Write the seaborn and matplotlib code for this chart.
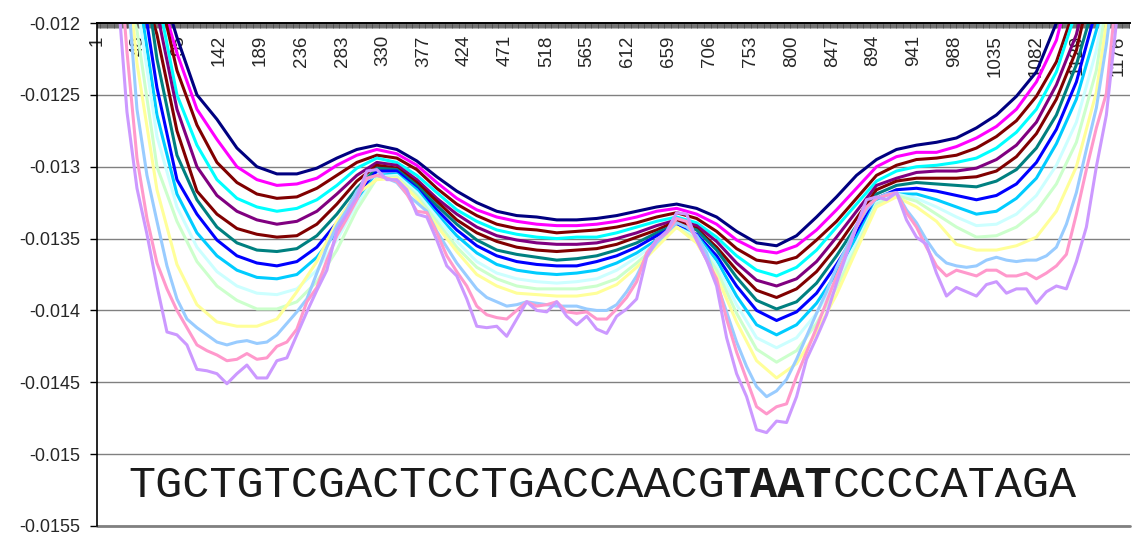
import numpy as np
import pandas as pd
import matplotlib
matplotlib.use("Agg")
import matplotlib.pyplot as plt
import seaborn as sns

# ---------------- data ----------------
# category positions (x axis is a category axis 1..1189)
X_COARSE = np.arange(1, 1198, 23)      # 53 sample positions
X_FINE = np.arange(1, 1198, 11.5)      # 105 sample positions

NAVY = [-0.0100, -0.0105, -0.0110, -0.01164, -0.01210, -0.01250, -0.01267, -0.01287, -0.01300, -0.01305,
        -0.01305, -0.01301, -0.01294, -0.01288, -0.01285, -0.01288, -0.01296, -0.01307, -0.01317, -0.01325,
        -0.01331, -0.01334, -0.01335, -0.01337, -0.01337, -0.01336, -0.01334, -0.01331, -0.01328, -0.01326,
        -0.01329, -0.01335, -0.01345, -0.01353, -0.01355, -0.01348, -0.01335, -0.01321, -0.01306, -0.01295,
        -0.01288, -0.01285, -0.01283, -0.01280, -0.01273, -0.01264, -0.01251, -0.01234, -0.01200, -0.01139,
        -0.0108, -0.0103, -0.0100]
MAGENTA = [-0.0102, -0.0107, -0.0112, -0.01173, -0.01221, -0.01260, -0.01281, -0.01300, -0.01309, -0.01313,
           -0.01312, -0.01308, -0.01299, -0.01292, -0.01288, -0.01291, -0.01299, -0.01311, -0.01322, -0.01330,
           -0.01335, -0.01338, -0.01340, -0.01341, -0.01341, -0.01340, -0.01338, -0.01335, -0.01331, -0.01329,
           -0.01333, -0.01340, -0.01351, -0.01358, -0.01360, -0.01355, -0.01344, -0.01330, -0.01315, -0.01300,
           -0.01293, -0.01290, -0.01290, -0.01286, -0.01280, -0.01272, -0.01260, -0.01241, -0.01212, -0.01158,
           -0.0110, -0.0105, -0.0102]
MAROON_A = [-0.0103, -0.0108, -0.0113, -0.01172, -0.01233, -0.01271, -0.01297, -0.01311, -0.01319, -0.01322,
            -0.01321, -0.01315, -0.01306, -0.01297, -0.01292, -0.01294, -0.01302, -0.01315, -0.01326, -0.01334,
            -0.01340, -0.01343, -0.01344, -0.01346, -0.01345, -0.01344, -0.01342, -0.01339, -0.01335, -0.01332,
            -0.01336, -0.01345, -0.01357, -0.01365, -0.01367, -0.01363, -0.01351, -0.01338, -0.01322, -0.01306,
            -0.01299, -0.01295, -0.01294, -0.01292, -0.01287, -0.01279, -0.01268, -0.01251, -0.01227, -0.01186,
            -0.0112, -0.0107, -0.0104]
CYAN = [-0.0104, -0.0109, -0.0114, -0.01179, -0.01250, -0.01285, -0.01309, -0.01322, -0.01328, -0.01331,
        -0.01329, -0.01323, -0.01313, -0.01301, -0.01294, -0.01297, -0.01306, -0.01318, -0.01330, -0.01338,
        -0.01344, -0.01347, -0.01349, -0.01350, -0.01349, -0.01349, -0.01346, -0.01342, -0.01338, -0.01335,
        -0.01339, -0.01349, -0.01362, -0.01372, -0.01376, -0.01370, -0.01358, -0.01342, -0.01326, -0.01310,
        -0.01303, -0.01300, -0.01299, -0.01297, -0.01294, -0.01287, -0.01276, -0.01260, -0.01234, -0.01191,
        -0.0114, -0.0108, -0.0105]
PURPLE = [-0.0105, -0.0110, -0.0115, -0.01192, -0.01260, -0.01300, -0.01320, -0.01331, -0.01337, -0.01340,
          -0.01338, -0.01331, -0.01319, -0.01306, -0.01297, -0.01299, -0.01309, -0.01322, -0.01333, -0.01342,
          -0.01348, -0.01351, -0.01353, -0.01354, -0.01354, -0.01353, -0.01350, -0.01346, -0.01341, -0.01337,
          -0.01341, -0.01352, -0.01367, -0.01379, -0.01383, -0.01378, -0.01366, -0.01349, -0.01331, -0.01313,
          -0.01308, -0.01304, -0.01303, -0.01303, -0.01301, -0.01295, -0.01285, -0.01269, -0.01243, -0.01208,
          -0.0115, -0.0110, -0.0106]
MAROON_B = [-0.0106, -0.0111, -0.0116, -0.01208, -0.01275, -0.01317, -0.01333, -0.01343, -0.01347, -0.01349,
            -0.01348, -0.01340, -0.01326, -0.01310, -0.01299, -0.01301, -0.01311, -0.01324, -0.01337, -0.01346,
            -0.01352, -0.01356, -0.01358, -0.01359, -0.01358, -0.01357, -0.01354, -0.01349, -0.01344, -0.01338,
            -0.01343, -0.01356, -0.01372, -0.01386, -0.01391, -0.01385, -0.01373, -0.01356, -0.01336, -0.01316,
            -0.01310, -0.01308, -0.01308, -0.01308, -0.01307, -0.01303, -0.01293, -0.01277, -0.01253, -0.01219,
            -0.01158, -0.0110, -0.0106]
TEAL = [-0.0105, -0.0110, -0.01127, -0.01225, -0.01292, -0.01323, -0.01342, -0.01353, -0.01358, -0.01359,
        -0.01357, -0.01348, -0.01333, -0.01315, -0.01301, -0.01302, -0.01313, -0.01327, -0.01340, -0.01351,
        -0.01358, -0.01361, -0.01363, -0.01365, -0.01364, -0.01362, -0.01358, -0.01353, -0.01346, -0.01340,
        -0.01344, -0.01358, -0.01377, -0.01393, -0.01399, -0.01394, -0.01381, -0.01362, -0.01341, -0.01319,
        -0.01313, -0.01311, -0.01312, -0.01313, -0.01314, -0.01310, -0.01302, -0.01287, -0.01264, -0.01229,
        -0.01181, -0.0111, -0.0107]
BLUE = [-0.0108, -0.0113, -0.01155, -0.01245, -0.01309, -0.01333, -0.01351, -0.01362, -0.01367, -0.01369,
        -0.01366, -0.01356, -0.01339, -0.01319, -0.01303, -0.01303, -0.01315, -0.01330, -0.01344, -0.01355,
        -0.01362, -0.01366, -0.01368, -0.01369, -0.01369, -0.01366, -0.01362, -0.01356, -0.01348, -0.01341,
        -0.01347, -0.01362, -0.01383, -0.01400, -0.01407, -0.01401, -0.01388, -0.01368, -0.01346, -0.01322,
        -0.01316, -0.01315, -0.01317, -0.01320, -0.01323, -0.01320, -0.01312, -0.01297, -0.01274, -0.01241,
        -0.01190, -0.0112, -0.0108]
SKYBLUE = [-0.0109, -0.0114, -0.01171, -0.01264, -0.01319, -0.01346, -0.01362, -0.01372, -0.01377, -0.01378,
           -0.01375, -0.01363, -0.01345, -0.01323, -0.01306, -0.01305, -0.01316, -0.01333, -0.01348, -0.01360,
           -0.01368, -0.01372, -0.01374, -0.01375, -0.01374, -0.01372, -0.01367, -0.01360, -0.01351, -0.01342,
           -0.01348, -0.01365, -0.01390, -0.01410, -0.01417, -0.01410, -0.01395, -0.01374, -0.01349, -0.01324,
           -0.01319, -0.01319, -0.01323, -0.01328, -0.01333, -0.01331, -0.01322, -0.01308, -0.01284, -0.01253,
           -0.01205, -0.0115, -0.0110]
LIGHTCYAN = [-0.0110, -0.0115, -0.01185, -0.01279, -0.01328, -0.01356, -0.01373, -0.01383, -0.01388, -0.01389,
             -0.01385, -0.01372, -0.01351, -0.01326, -0.01307, -0.01306, -0.01318, -0.01335, -0.01352, -0.01366,
             -0.01374, -0.01378, -0.01380, -0.01381, -0.01380, -0.01378, -0.01372, -0.01363, -0.01353, -0.01342,
             -0.01349, -0.01369, -0.01396, -0.01419, -0.01426, -0.01419, -0.01402, -0.01378, -0.01353, -0.01325,
             -0.01319, -0.01322, -0.01328, -0.01335, -0.01341, -0.01340, -0.01333, -0.01320, -0.01299, -0.01269,
             -0.01219, -0.01144, -0.0110]
LIGHTGREEN = [-0.0111, -0.0116, -0.01205, -0.01300, -0.01338, -0.01366, -0.01383, -0.01393, -0.01399, -0.01399,
              -0.01394, -0.01380, -0.01358, -0.01330, -0.01308, -0.01307, -0.01320, -0.01338, -0.01356, -0.01370,
              -0.01378, -0.01383, -0.01385, -0.01385, -0.01385, -0.01383, -0.01378, -0.01367, -0.01355, -0.01342,
              -0.01351, -0.01372, -0.01402, -0.01427, -0.01436, -0.01428, -0.01409, -0.01384, -0.01356, -0.01326,
              -0.01320, -0.01324, -0.01333, -0.01342, -0.01349, -0.01348, -0.01342, -0.01331, -0.01312, -0.01283,
              -0.01233, -0.01142, -0.0110]
YELLOW = [-0.0105, -0.01086, -0.01228, -0.01316, -0.01368, -0.01396, -0.01408, -0.01411, -0.01411, -0.01406,
          -0.01387, -0.01366, -0.01338, -0.01319, -0.01309, -0.01308, -0.01322, -0.01341, -0.01359, -0.01375,
          -0.01383, -0.01388, -0.01389, -0.01390, -0.01390, -0.01388, -0.01382, -0.01370, -0.01356, -0.01342,
          -0.01353, -0.01376, -0.01408, -0.01435, -0.01447, -0.01437, -0.01415, -0.01389, -0.01358, -0.01328,
          -0.01321, -0.01328, -0.01338, -0.01354, -0.01358, -0.01358, -0.01355, -0.01349, -0.01331, -0.01300,
          -0.01248, -0.01152, -0.0110]
LIGHTBLUE = [-0.0105, -0.0108, -0.0110, -0.01171, -0.01260, -0.01306, -0.01338, -0.01369, -0.01392, -0.01406,
             -0.01412, -0.01417, -0.01422, -0.01424, -0.01422, -0.01421, -0.01423, -0.01422, -0.01417, -0.01409,
             -0.01401, -0.01392, -0.01374, -0.01356, -0.01341, -0.01330, -0.01317, -0.01309, -0.01306, -0.01308,
             -0.01311, -0.01319, -0.01325, -0.01331, -0.01345, -0.01356, -0.01367, -0.01376, -0.01385, -0.01391,
             -0.01394, -0.01397, -0.01396, -0.01394, -0.01395, -0.01396, -0.01397, -0.01397, -0.01397, -0.01399,
             -0.01400, -0.01400, -0.01396, -0.01387, -0.01376, -0.01362, -0.01353, -0.01346, -0.01339, -0.01342,
             -0.01348, -0.01360, -0.01381, -0.01401, -0.01422, -0.01439, -0.01453, -0.01460, -0.01456, -0.01448,
             -0.01434, -0.01418, -0.01402, -0.01387, -0.01370, -0.01356, -0.01341, -0.01330, -0.01322, -0.01319,
             -0.01318, -0.01330, -0.01339, -0.01351, -0.01361, -0.01367, -0.01369, -0.01370, -0.01369, -0.01365,
             -0.01363, -0.01365, -0.01366, -0.01365, -0.01365, -0.01362, -0.01356, -0.01340, -0.01318, -0.01288,
             -0.01259, -0.01215, -0.01160, -0.0110, -0.0105]
PINK = [-0.0105, -0.0110, -0.01133, -0.01220, -0.01294, -0.01336, -0.01367, -0.01385, -0.01400, -0.01412,
        -0.01424, -0.01428, -0.01431, -0.01435, -0.01434, -0.01430, -0.01434, -0.01433, -0.01425, -0.01422,
        -0.01413, -0.01394, -0.01384, -0.01365, -0.01348, -0.01336, -0.01323, -0.01308, -0.01306, -0.01308,
        -0.01310, -0.01319, -0.01331, -0.01332, -0.01346, -0.01362, -0.01373, -0.01383, -0.01397, -0.01403,
        -0.01405, -0.01406, -0.01400, -0.01394, -0.01397, -0.01396, -0.01394, -0.01401, -0.01402, -0.01401,
        -0.01406, -0.01406, -0.01399, -0.01391, -0.01380, -0.01360, -0.01351, -0.01346, -0.01336, -0.01338,
        -0.01351, -0.01365, -0.01378, -0.01406, -0.01429, -0.01448, -0.01467, -0.01472, -0.01467, -0.01465,
        -0.01446, -0.01429, -0.01412, -0.01394, -0.01376, -0.01360, -0.01342, -0.01328, -0.01322, -0.01320,
        -0.01318, -0.01332, -0.01342, -0.01356, -0.01369, -0.01376, -0.01372, -0.01374, -0.01376, -0.01372,
        -0.01372, -0.01376, -0.01376, -0.01374, -0.01378, -0.01374, -0.01369, -0.01361, -0.01333, -0.01302,
        -0.01273, -0.01249, -0.01179, -0.0112, -0.0108]
LAVENDER = [-0.0105, -0.01101, -0.01171, -0.01262, -0.01315, -0.01347, -0.01383, -0.01415, -0.01417, -0.01424,
            -0.01441, -0.01442, -0.01444, -0.01451, -0.01444, -0.01438, -0.01447, -0.01447, -0.01435, -0.01433,
            -0.01417, -0.01401, -0.01386, -0.01372, -0.01344, -0.01333, -0.01321, -0.01303, -0.01302, -0.01309,
            -0.01309, -0.01316, -0.01333, -0.01335, -0.01351, -0.01369, -0.01376, -0.01392, -0.01411, -0.01412,
            -0.01411, -0.01418, -0.01406, -0.01394, -0.01400, -0.01401, -0.01394, -0.01404, -0.01410, -0.01404,
            -0.01413, -0.01416, -0.01404, -0.01399, -0.01392, -0.01363, -0.01351, -0.01345, -0.01332, -0.01333,
            -0.01351, -0.01365, -0.01383, -0.01419, -0.01444, -0.01460, -0.01483, -0.01485, -0.01477, -0.01478,
            -0.01460, -0.01434, -0.01419, -0.01403, -0.01381, -0.01361, -0.01341, -0.01323, -0.01321, -0.01323,
            -0.01318, -0.01337, -0.01349, -0.01354, -0.01374, -0.01390, -0.01384, -0.01387, -0.01390, -0.01382,
            -0.01380, -0.01388, -0.01385, -0.01385, -0.01395, -0.01387, -0.01383, -0.01385, -0.01366, -0.01342,
            -0.01300, -0.01264, -0.01200, -0.0113, -0.0108]

SERIES = [
    ("s1", X_COARSE, NAVY, "#000080"),
    ("s2", X_COARSE, MAGENTA, "#FF00FF"),
    ("s3", X_COARSE, MAROON_A, "#800000"),
    ("s4", X_COARSE, CYAN, "#00FFFF"),
    ("s5", X_COARSE, PURPLE, "#800080"),
    ("s6", X_COARSE, MAROON_B, "#800000"),
    ("s7", X_COARSE, TEAL, "#008080"),
    ("s8", X_COARSE, BLUE, "#0000FF"),
    ("s9", X_COARSE, SKYBLUE, "#00CCFF"),
    ("s10", X_COARSE, LIGHTCYAN, "#CCFFFF"),
    ("s11", X_COARSE, LIGHTGREEN, "#CCFFCC"),
    ("s12", X_COARSE, YELLOW, "#FFFF99"),
    ("s13", X_FINE, LIGHTBLUE, "#99CCFF"),
    ("s14", X_FINE, PINK, "#FF99CC"),
    ("s15", X_FINE, LAVENDER, "#CC99FF"),
]

X_TICKS = [1, 48, 95, 142, 189, 236, 283, 330, 377, 424, 471, 518, 565, 612, 659,
           706, 753, 800, 847, 894, 941, 988, 1035, 1082, 1129, 1176]
X_TICK_LABELS = [str(v) for v in X_TICKS]
N_CATEGORIES = 1189
Y_TICKS = [-0.0155, -0.015, -0.0145, -0.014, -0.0135, -0.013, -0.0125, -0.012]
Y_TICK_LABELS = ["-0.0155", "-0.015", "-0.0145", "-0.014", "-0.0135", "-0.013", "-0.0125", "-0.012"]

SEQ_PARTS = ["TGCTGTCGACTCCTGACCAACG", "TAAT", "CCCCATAGA"]
SEQ_WEIGHTS = ["normal", "bold", "normal"]

# ---------------- plot ----------------
sns.set_style("white")
plt.rcParams["font.family"] = ["Liberation Sans", "DejaVu Sans"]

frames = []
for name, xs, ys, _ in SERIES:
    frames.append(pd.DataFrame({"category": xs, "value": ys, "series": name}))
df = pd.concat(frames, ignore_index=True)
palette = {name: col for name, _, _, col in SERIES}
order = [name for name, _, _, _ in SERIES]

W, H = 1134, 535
fig = plt.figure(figsize=(W / 100, H / 100), dpi=100)
ax = fig.add_axes([97 / W, 9 / H, 1033 / W, 503 / H])

sns.lineplot(data=df, x="category", y="value", hue="series", hue_order=order,
             palette=palette, estimator=None, sort=False, legend=False,
             linewidth=2.2, ax=ax)
for ln in ax.get_lines():
    ln.set_solid_joinstyle("round")
    ln.set_solid_capstyle("round")

ax.set_xlim(1, N_CATEGORIES + 0.7)
ax.set_ylim(Y_TICKS[0], Y_TICKS[-1])
ax.set_xlabel("")
ax.set_ylabel("")

# x axis sits on top (crosses at -0.012), labels hang below it
ax.spines["bottom"].set_position(("data", Y_TICKS[-1]))
ax.spines["bottom"].set_color("black")
ax.spines["bottom"].set_linewidth(1.4)
ax.spines["top"].set_visible(False)
ax.spines["right"].set_visible(False)
ax.spines["left"].set_color("black")
ax.spines["left"].set_linewidth(1.2)

ax.set_xticks(X_TICKS)
ax.set_xticklabels(X_TICK_LABELS, rotation=90, fontsize=13.5)
ax.set_xticks(np.arange(1, N_CATEGORIES + 1), minor=True)
ax.tick_params(axis="x", which="both", direction="out", length=3.8, width=0.55,
               color="#4a4a4a", pad=5, bottom=True, top=False)

ax.set_yticks(Y_TICKS)
ax.set_yticklabels(Y_TICK_LABELS, fontsize=13)
ax.tick_params(axis="y", which="both", direction="out", length=5, width=1,
               color="black", pad=7, left=True)
ax.yaxis.grid(True, color="#808080", linewidth=1.0)
ax.xaxis.grid(False)
ax.set_axisbelow(True)
# plot-area floor line at the lowest gridline (not clipped at the edge)
ax.axhline(Y_TICKS[0], color="#808080", linewidth=2.0, clip_on=False, zorder=1)

# DNA sequence text with the bold TAAT motif
fs = 32.5
adv = 0.6 * fs * 100 / 72
x_px = 128
for part, wt in zip(SEQ_PARTS, SEQ_WEIGHTS):
    fig.text(x_px / W, 1 - 497 / H, part, family="Liberation Mono", fontsize=fs,
             weight=wt, color="#1a1a1a", ha="left", va="baseline")
    x_px += len(part) * adv

fig.savefig("out.png", dpi=100)
